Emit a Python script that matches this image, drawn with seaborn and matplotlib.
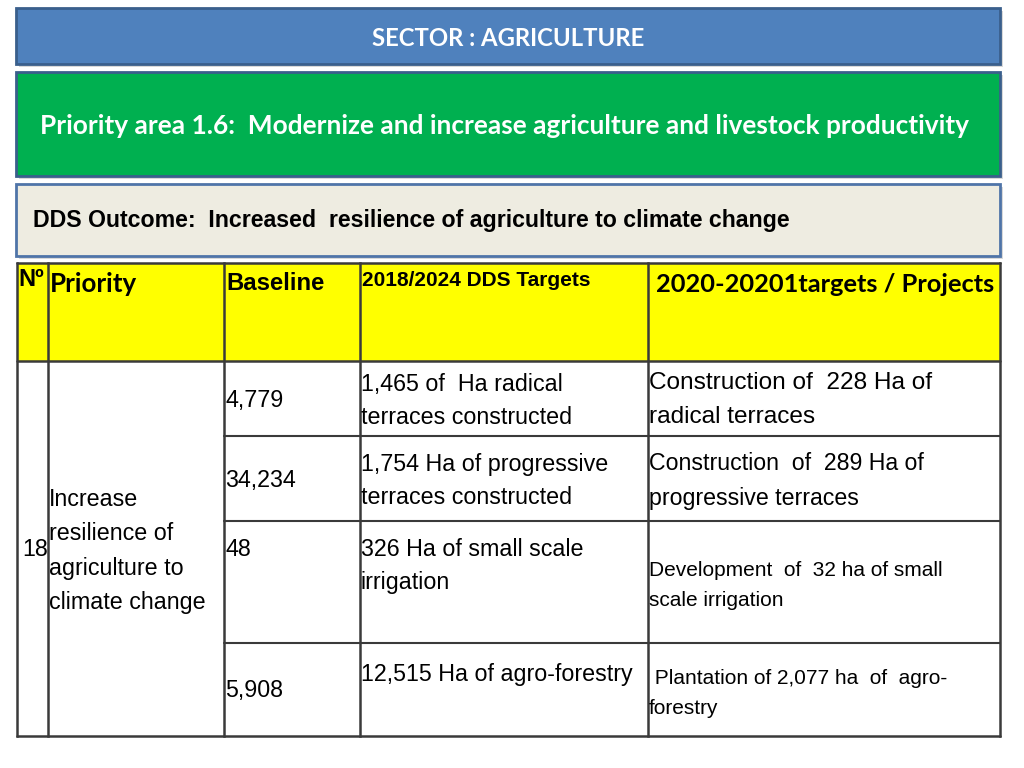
import numpy as np
import seaborn as sns
import matplotlib.pyplot as plt
from matplotlib.patches import Rectangle

# slide texts
sector = "SECTOR : AGRICULTURE"
priority_area = "Priority area 1.6:  Modernize and increase agriculture and livestock productivity"
outcome = "DDS Outcome:  Increased  resilience of agriculture to climate change"

headers = ["Nº", "Priority", "Baseline", "2018/2024 DDS Targets", "2020-20201targets / Projects"]
row_no = "18"
priority = ["Increase", "resilience of", "agriculture to", "climate change"]
baseline = ["4,779", "34,234", "48", "5,908"]
dds_targets = [
    ["1,465 of  Ha radical", "terraces constructed"],
    ["1,754 Ha of progressive", "terraces constructed"],
    ["326 Ha of small scale", "irrigation"],
    ["12,515 Ha of agro-forestry"],
]
projects = [
    ["Construction of  228 Ha of", "radical terraces"],
    ["Construction  of  289 Ha of", "progressive terraces"],
    ["Development  of  32 ha of small", "scale irrigation"],
    [" Plantation of 2,077 ha  of  agro-", "forestry"],
]

# layout (pixels on a 1024x768 canvas)
col_x = [17, 48, 224, 360, 648, 1000]
row_y = [263, 361, 436, 521, 643, 736]
baseline_y = [401, 480, 549, 691]
target_y = [384, 464, 550, 675]
project_y = [383, 464, 570, 678]
project_size = [17.6, 16.7, 15, 15]
project_gap = [34, 34, 31, 30]
BODY = 16.75

SANS = ['Liberation Sans', 'DejaVu Sans']
CAL = ['Lato', 'DejaVu Sans']
LINE = '#3a3a3a'

sns.set_theme(style="white")
plt.rcParams['font.family'] = SANS
plt.rcParams['text.color'] = 'black'

fig = plt.figure(figsize=(10.24, 7.68), dpi=100)
ax = fig.add_axes([0, 0, 1, 1])
ax.set_xlim(0, 1024)
ax.set_ylim(768, 0)
ax.axis('off')


def banner(y0, y1, face, edge):
    ax.add_patch(Rectangle((19, y0 + 3), 984, y1 - y0, facecolor='#d9d9d9', edgecolor='none'))
    ax.add_patch(Rectangle((16, y0), 984, y1 - y0, facecolor=face, edgecolor=edge, lw=2))


banner(8, 64, '#4f81bd', '#3a5f8c')
banner(72, 176, '#00b050', '#3a5f8c')
banner(184, 256, '#eeece1', '#4f74a8')

ax.text(508, 38, sector, color='white', fontsize=17.2, fontweight='bold',
        family=CAL, ha='center', va='center')
ax.text(40, 126, priority_area, color='white', fontsize=18.9, fontweight='bold',
        family=CAL, ha='left', va='center')
ax.text(33, 221, outcome, fontsize=16.7, fontweight='bold', ha='left', va='center')

# table header
ax.add_patch(Rectangle((col_x[0], row_y[0]), col_x[-1] - col_x[0], row_y[1] - row_y[0],
                       facecolor='#ffff00', edgecolor='none'))

# grid lines
for x in col_x:
    ax.plot([x, x], [row_y[0], row_y[-1]], color=LINE, lw=1.8, solid_capstyle='projecting')
ax.plot([col_x[0], col_x[-1]], [row_y[0], row_y[0]], color=LINE, lw=1.8)
ax.plot([col_x[0], col_x[-1]], [row_y[1], row_y[1]], color=LINE, lw=1.8)
ax.plot([col_x[0], col_x[-1]], [row_y[-1], row_y[-1]], color=LINE, lw=1.8)
for y in row_y[2:-1]:
    ax.plot([col_x[2], col_x[-1]], [y, y], color=LINE, lw=1.5)

# header texts
ax.text(18, 279, headers[0], fontsize=17, fontweight='bold', ha='left', va='center')
ax.text(50, 284, headers[1], fontsize=18.6, fontweight='bold', family=CAL, ha='left', va='center')
ax.text(226, 283, headers[2], fontsize=17.2, fontweight='bold', ha='left', va='center')
ax.text(362, 281, headers[3], fontsize=15, fontweight='bold', ha='left', va='center')
ax.text(656, 284, headers[4], fontsize=18.3, fontweight='bold', family=CAL, ha='left', va='center')

# body
ax.text(22, 550, row_no, fontsize=BODY, ha='left', va='center')
for i, line in enumerate(priority):
    ax.text(49, 500 + i * 34, line, fontsize=BODY, ha='left', va='center')

for i, val in enumerate(baseline):
    ax.text(225, baseline_y[i], val, fontsize=BODY, ha='left', va='center')

for i, lines in enumerate(dds_targets):
    for j, line in enumerate(lines):
        ax.text(361, target_y[i] + j * 33, line, fontsize=BODY, ha='left', va='center')

for i, lines in enumerate(projects):
    for j, line in enumerate(lines):
        ax.text(649, project_y[i] + j * project_gap[i], line, fontsize=project_size[i],
                ha='left', va='center')

fig.savefig('out.png', dpi=100)
